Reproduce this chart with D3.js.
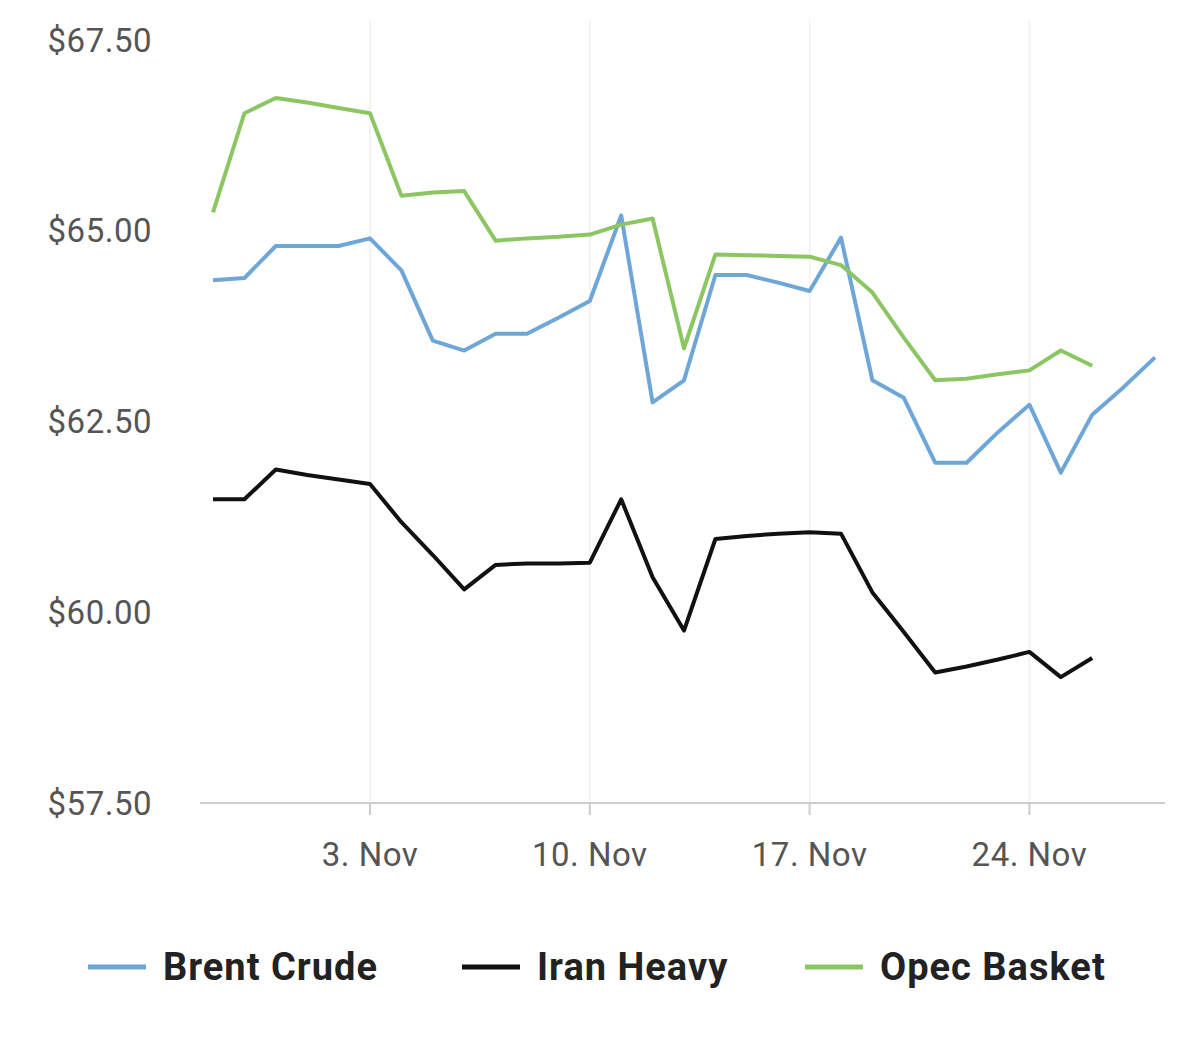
<!DOCTYPE html>
<html>
<head>
<meta charset="utf-8">
<script src="https://cdn.jsdelivr.net/npm/d3@7"></script>
<style>
  body { margin: 0; background: #fff; }
  text { font-family: Roboto, "Open Sans", sans-serif; }
</style>
</head>
<body>
<div id="chart"></div>
<script>
// Daily dates, 29 Oct to 28 Nov
const dates = d3.timeDay.range(new Date(2018, 9, 29), new Date(2018, 10, 29));

const brent = [64.35, 64.38, 64.80, 64.80, 64.80, 64.90, 64.48, 63.56, 63.43, 63.65, 63.65,
  63.86, 64.08, 65.20, 62.75, 63.04, 64.42, 64.42, 64.32, 64.21, 64.91, 63.04, 62.81,
  61.96, 61.96, 62.36, 62.72, 61.83, 62.59, 62.95, 63.34];
const iran = [61.48, 61.48, 61.87, 61.80, 61.74, 61.68, 61.18, 60.75, 60.30, 60.62, 60.64,
  60.64, 60.65, 61.48, 60.46, 59.76, 60.96, 61.00, 61.03, 61.05, 61.03, 60.26, 59.74,
  59.21, 59.29, 59.38, 59.48, 59.15, 59.40, null, null];
const opec = [65.24, 66.54, 66.74, 66.68, 66.61, 66.54, 65.46, 65.50, 65.52, 64.87, 64.90,
  64.92, 64.95, 65.08, 65.16, 63.46, 64.69, 64.68, 64.67, 64.66, 64.55, 64.19, 63.60,
  63.04, 63.06, 63.12, 63.17, 63.43, 63.23, null, null];

const yTicks = [57.5, 60, 62.5, 65, 67.5];
const xTicks = [new Date(2018, 10, 3), new Date(2018, 10, 10), new Date(2018, 10, 17), new Date(2018, 10, 24)];

const series = [
  { name: 'Brent Crude', values: brent, color: '#6fa6d8' },
  { name: 'Iran Heavy', values: iran, color: '#111111' },
  { name: 'Opec Basket', values: opec, color: '#8cc663' }
];

const width = 1200, height = 1060;
const svg = d3.select('#chart').append('svg')
  .attr('width', width).attr('height', height);

const x = d3.scaleTime()
  .domain([dates[0], dates[dates.length - 1]])
  .range([213, 1155]);
const y = d3.scaleLinear().domain([57.5, 67.5]).range([803, 40]);

// vertical grid lines at ticks
svg.append('g').selectAll('line')
  .data(xTicks).join('line')
  .attr('x1', d => x(d)).attr('x2', d => x(d))
  .attr('y1', 20).attr('y2', 803)
  .attr('stroke', '#f1f1f1').attr('stroke-width', 1.5);

// bottom axis line
svg.append('line')
  .attr('x1', 200).attr('x2', 1165).attr('y1', 803).attr('y2', 803)
  .attr('stroke', '#ccc').attr('stroke-width', 2);

svg.append('g').selectAll('line')
  .data(xTicks).join('line')
  .attr('x1', d => x(d)).attr('x2', d => x(d))
  .attr('y1', 803).attr('y2', 815)
  .attr('stroke', '#ccc').attr('stroke-width', 2);

// y labels
svg.append('g').selectAll('text')
  .data(yTicks).join('text')
  .attr('x', 152).attr('y', d => y(d))
  .attr('dy', '0.35em').attr('text-anchor', 'end')
  .style('font-size', '33px').style('letter-spacing', '0.5px').style('fill', '#555')
  .text(d => '$' + d.toFixed(2));

// x labels
svg.append('g').selectAll('text')
  .data(xTicks).join('text')
  .attr('x', d => x(d)).attr('y', 866)
  .attr('text-anchor', 'middle')
  .style('font-size', '33px').style('letter-spacing', '0.5px').style('fill', '#555')
  .text(d => d.getDate() + '. Nov');

const line = d3.line()
  .defined(d => d.v != null)
  .x(d => x(d.date)).y(d => y(d.v));

series.forEach(s => {
  svg.append('path')
    .datum(s.values.map((v, i) => ({ date: dates[i], v })))
    .attr('d', line)
    .attr('fill', 'none')
    .attr('stroke', s.color)
    .attr('stroke-width', 4)
    .attr('stroke-linejoin', 'round');
});

// legend
const legendX = [88, 462, 805];
const lg = svg.append('g').selectAll('g')
  .data(series).join('g')
  .attr('transform', (d, i) => `translate(${legendX[i]},967)`);
lg.append('line')
  .attr('x1', 0).attr('x2', 58)
  .attr('stroke', d => d.color).attr('stroke-width', 5);
lg.append('text')
  .attr('x', 75).attr('dy', '0.35em')
  .style('font-size', '38px').style('letter-spacing', '1px')
  .style('font-weight', 'bold').style('fill', '#222')
  .text(d => d.name);
</script>
</body>
</html>
